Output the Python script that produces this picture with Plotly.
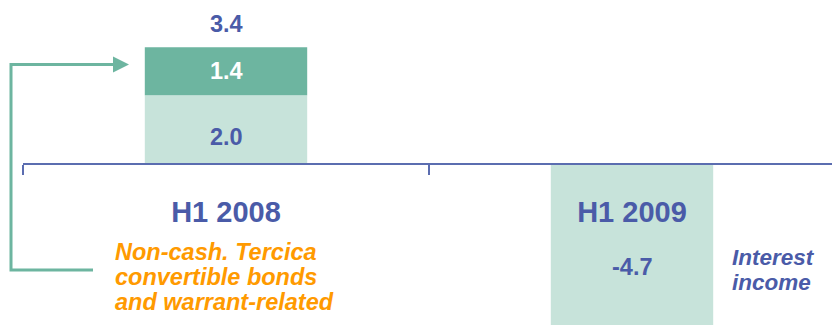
import plotly.graph_objects as go

# ---- data ----
categories = ["H1 2008", "H1 2009"]
interest_income = [2.0, -4.7]          # light segment
noncash_tercica = [1.4, None]          # dark segment (stacked on top)
totals = [3.4, None]
interest_note = ["Interest", "income"]
noncash_note = ["Non-cash. Tercica", "convertible bonds", "and warrant-related"]

# ---- style ----
BLUE = "#4a5ba8"
AXIS = "#5b6db0"
LIGHT = "#c7e3da"
DARK = "#6db5a0"
ORANGE = "#ff9a00"
FONT = "Liberation Sans"

W, H = 832, 325
L = 23
yrange = [-4.70, 4.78]
xrange = [-0.5, -0.5 + (W - L) / 406]


def px(x):
    return (x - L) / (W - L)


def py(y):
    return 1 - y / H


fig = go.Figure()
fig.add_bar(x=categories, y=interest_income, marker_color=LIGHT, width=0.4,
            marker_line_width=0, name="Interest income")
fig.add_bar(x=categories, y=noncash_tercica, marker_color=DARK, width=0.4,
            marker_line_width=0, name="Non-cash")

ann = []
# value labels
ann.append(dict(x=categories[0], y=interest_income[0] / 2, text=f"{interest_income[0]:.1f}",
                yshift=-7, font=dict(color=BLUE, size=23.5, weight="bold")))
ann.append(dict(x=categories[0], y=interest_income[0] + noncash_tercica[0] / 2,
                text=f"{noncash_tercica[0]:.1f}", font=dict(color="white", size=23.5, weight="bold")))
ann.append(dict(x=categories[0], y=totals[0], text=f"{totals[0]:.1f}", yanchor="bottom", yshift=8,
                font=dict(color=BLUE, size=23.5, weight="bold")))
ann.append(dict(x=categories[1], y=interest_income[1] / 2, text=f"{interest_income[1]:.1f}",
                yshift=-23, font=dict(color=BLUE, size=23.5, weight="bold")))

# notes
for i, line in enumerate(noncash_note):
    ann.append(dict(xref="paper", yref="paper", x=px(113), y=py(251.5 + 25 * i), text=line,
                    xanchor="left", yanchor="middle",
                    font=dict(color=ORANGE, size=23.5, weight="bold", style="italic")))
for i, line in enumerate(interest_note):
    ann.append(dict(xref="paper", yref="paper", x=px(730), y=py(257 + 25 * i), text=line,
                    xanchor="left", yanchor="middle",
                    font=dict(color=BLUE, size=22.5, weight="bold", style="italic")))
for a in ann:
    a.setdefault("showarrow", False)
    a["font"].setdefault("family", FONT)

# bracket arrow
pts = [(93, 270), (11, 270), (11, 64.5), (114, 64.5)]
path = "M " + " L ".join(f"{px(x)},{py(y)}" for x, y in pts)
head = [(113, 56.5), (129, 64.5), (113, 72.5)]
hpath = "M " + " L ".join(f"{px(x)},{py(y)}" for x, y in head) + " Z"
shapes = [
    dict(type="path", xref="paper", yref="paper", path=path, line=dict(color=DARK, width=3)),
    dict(type="path", xref="paper", yref="paper", path=hpath, line=dict(color=DARK, width=0),
         fillcolor=DARK),
]

fig.update_layout(
    width=W, height=H, margin=dict(l=L, r=0, t=0, b=0),
    barmode="relative", showlegend=False,
    plot_bgcolor="white", paper_bgcolor="white",
    annotations=ann, shapes=shapes,
    xaxis=dict(type="category", range=xrange, showline=True, linecolor=AXIS, linewidth=2,
               ticks="outside", tickson="boundaries", ticklen=10, tickwidth=2, tickcolor=AXIS,
               anchor="free", position=(0 - yrange[0]) / (yrange[1] - yrange[0]),
               showgrid=False, zeroline=False, ticklabelstandoff=22,
               tickfont=dict(family=FONT, size=29, color=BLUE, weight="bold")),
    yaxis=dict(range=yrange, visible=False, showgrid=False, zeroline=False),
)

fig.write_html("out.html", config={"displayModeBar": False},
               post_script="document.body.style.margin='0';")
